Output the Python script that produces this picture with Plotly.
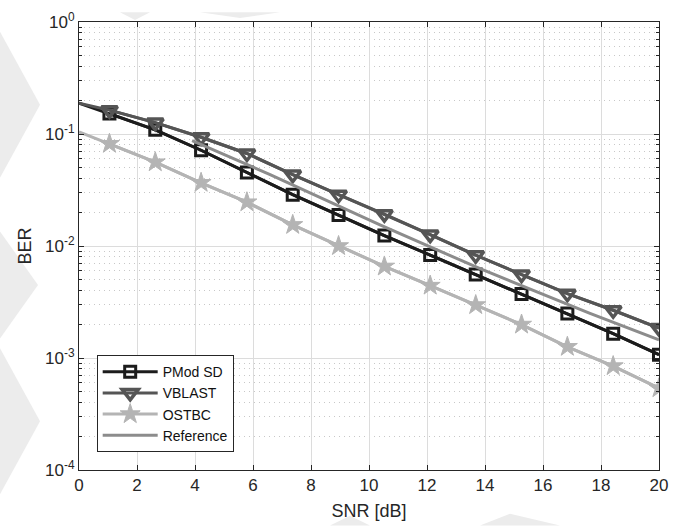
import plotly.graph_objects as go

# ---- data ----
snr = [0.0, 1.05, 2.63, 4.21, 5.79, 7.37, 8.95, 10.53, 12.11, 13.68, 15.26, 16.84, 18.42, 20.0]
ber_pmod = [0.1887, 0.1523, 0.1090, 0.0716, 0.0453, 0.0287, 0.01887, 0.01239,
            0.00830, 0.00556, 0.00373, 0.00250, 0.00165, 0.00107]
ber_vblast = [0.1887, 0.1633, 0.1264, 0.0936, 0.0670, 0.0434, 0.0287, 0.01925,
              0.01264, 0.00827, 0.00556, 0.00375, 0.00267, 0.00185]
ber_ostbc = [0.1047, 0.0818, 0.0560, 0.0367, 0.0246, 0.01544, 0.0100, 0.00657,
             0.00443, 0.00297, 0.00199, 0.00126, 0.000847, 0.000538]
snr_ref = [3.9, 6.59, 10.38, 13.83, 17.62, 20.0]
ber_ref = [0.0874, 0.0434, 0.01544, 0.00627, 0.00250, 0.00145]

x_ticks = [0, 2, 4, 6, 8, 10, 12, 14, 16, 18, 20]
y_ticks = [1e-4, 1e-3, 1e-2, 1e-1, 1e0]
y_ticktext = ["10<sup>-4</sup>", "10<sup>-3</sup>", "10<sup>-2</sup>", "10<sup>-1</sup>", "10<sup>0</sup>"]
y_minor = [m * 10 ** e for e in range(-4, 0) for m in range(2, 10)]

FONT = "Liberation Sans, Arial, Helvetica, sans-serif"

series = [
    ("PMod SD", ber_pmod, "#1c1c1c", "square-open", 11, 3),
    ("VBLAST", ber_vblast, "#555555", "triangle-down-open", 14, 3.5),
    ("OSTBC", ber_ostbc, "#b4b4b4", "star", 15, 1),
]

fig = go.Figure()
for name, ys, col, sym, size, mlw in series:
    # line from SNR=0 (no marker at 0)
    fig.add_trace(go.Scatter(x=snr, y=ys, mode="lines", line=dict(color=col, width=3),
                             showlegend=False, hoverinfo="skip"))
    fig.add_trace(go.Scatter(x=snr[1:], y=ys[1:], mode="lines+markers", name=name,
                             line=dict(color=col, width=3),
                             marker=dict(symbol=sym, size=size, color=col,
                                         line=dict(color=col, width=mlw))))

fig.add_trace(go.Scatter(x=snr_ref, y=ber_ref, mode="lines", name="Reference",
                         line=dict(color="#8c8c8c", width=3)))

# faint decorative background shapes (watermark arrows outside the axes)
def px2paper(px, py):
    return (px - 79) / 580.0, (470 - py) / 460.0

def poly(points):
    pts = [px2paper(a, b) for a, b in points]
    return "M " + " L ".join(f"{a:.4f},{b:.4f}" for a, b in pts) + " Z"

shapes = []
for pts in [
    [(0, 20), (40, 95), (0, 170)],
    [(0, 225), (38, 280), (0, 335)],
    [(0, 345), (40, 420), (0, 495)],
    [(120, 0), (150, 0), (135, 8)],
    [(200, 0), (280, 0), (240, 6)],
    [(330, 527), (350, 517), (370, 527)],
    [(480, 527), (510, 515), (560, 527)],
]:
    shapes.append(dict(type="path", path=poly(pts), xref="paper", yref="paper",
                       fillcolor="#ececec", line=dict(width=0), layer="below"))

fig.update_layout(
    width=688, height=527,
    margin=dict(l=79, r=29, t=10, b=57),
    paper_bgcolor="white", plot_bgcolor="white",
    font=dict(family=FONT, size=17, color="#262626"),
    shapes=shapes,
    legend=dict(x=0.0305, y=0.04, xanchor="left", yanchor="bottom",
                bgcolor="white", bordercolor="#262626", borderwidth=1,
                font=dict(size=14, family=FONT, color="#111111"),
                itemwidth=55, tracegroupgap=0, itemsizing="trace"),
)

fig.update_xaxes(
    range=[0, 20], tickvals=x_ticks, ticks="inside", ticklen=5, tickcolor="#262626",
    showline=True, linecolor="#262626", linewidth=1, mirror="ticks",
    showgrid=True, gridcolor="#dcdcdc", gridwidth=1, zeroline=False,
    title=dict(text="SNR [dB]", standoff=9, font=dict(size=18)),
    tickfont=dict(size=17), ticklabeloverflow="allow",
)
fig.update_yaxes(
    type="log", range=[-4, 0], tickvals=y_ticks, ticktext=y_ticktext,
    ticks="inside", ticklen=5, tickcolor="#262626",
    showline=True, linecolor="#262626", linewidth=1, mirror="ticks",
    showgrid=True, gridcolor="#dcdcdc", gridwidth=1, zeroline=False,
    minor=dict(tickvals=y_minor, ticks="inside", ticklen=3, tickcolor="#262626",
               showgrid=True, gridcolor="#c8c8c8", griddash="1px,4px", gridwidth=1),
    title=dict(text="BER", standoff=8, font=dict(size=18)),
    tickfont=dict(size=17), ticklabeloverflow="allow",
)

fig.write_html("out.html", config={"displayModeBar": False},
               post_script="document.body.style.margin='0px';")
